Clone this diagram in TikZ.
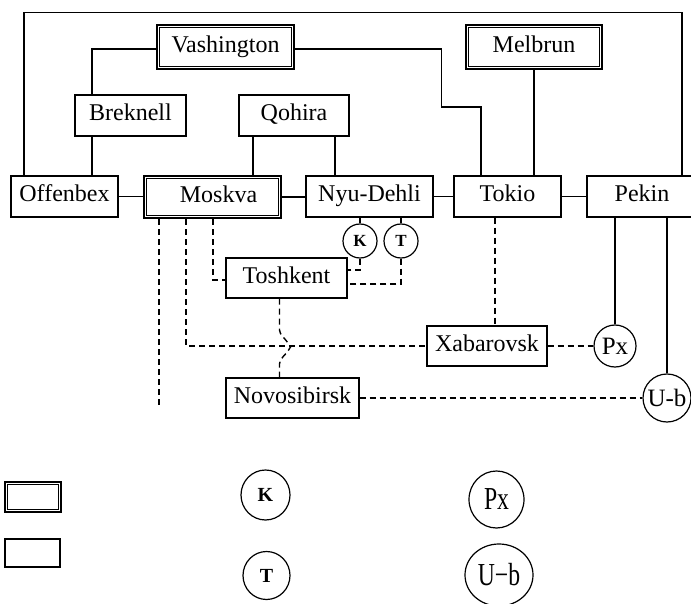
\documentclass[tikz,border=0pt]{standalone}
\usepackage{fontspec}
\setmainfont{Liberation Serif}
\usetikzlibrary{shapes.geometric,calc}
\begin{document}
\begin{tikzpicture}[x=1pt,y=-1pt,
  box/.style={draw, line width=1.3pt, minimum width=#1, minimum height=41pt, inner sep=0pt, text height=16pt, text depth=5pt, font=\fontsize{24}{28}\selectfont},
  dbl/.style={box=#1, line width=2.6pt, minimum height=44pt},
  inner/.style={line width=0.9pt},
  conn/.style={line width=1.2pt},
  dsh/.style={line width=1.4pt, dash pattern=on 6pt off 4pt},
  smallc/.style={draw, circle, line width=1.2pt, minimum size=34pt, inner sep=0pt, font=\fontsize{17}{17}\selectfont\bfseries},
  bigc/.style={draw, circle, line width=1.2pt, minimum size=#1, inner sep=0pt, font=\fontsize{25}{25}\selectfont},
  leg/.style={draw, ellipse, line width=1.2pt, inner sep=0pt}
]
\useasboundingbox (0,0) rectangle (691,604);

% boxes
\node[dbl=137pt] (vash) at (225.5,47) {Vashington};
\node[dbl=136pt] (melb) at (534,47) {Melbrun};
\node[box=111pt] (brek) at (130.5,115.5) {Breknell};
\node[box=110pt] (qoh) at (294,115.5) {Qohira};
\node[box=107pt] (offb) at (64.5,196.5) {Offenbex};
\node[dbl=137pt, minimum height=42pt] (mosk) at (212.5,197) {\hspace*{12pt}Moskva};
\node[box=127pt] (nyu) at (369.5,196.5) {Nyu-Dehli};
\node[box=107pt] (tok) at (507.5,196.5) {Tokio};
\node[box=110pt] (pek) at (642,196.5) {Pekin};
\node[box=121pt, minimum height=40pt] (tosh) at (286.5,278) {Toshkent};
\node[box=120pt, minimum height=40pt] (xab) at (487,346) {Xabarovsk};
\node[box=133pt, minimum height=40pt] (novo) at (292.5,398) {Novosibirsk};

% circles
\node[smallc] (kc) at (360,241) {K};
\node[smallc] (tc) at (401,241) {T};
\node[bigc=42pt] (px) at (615,346) {Px};
\node[bigc=48pt] (ub) at (667,398) {U-b};

% inner lines of double boxes
\foreach \n in {vash,melb,mosk}
  \draw[inner] ([shift={(3.5,3.5)}]\n.north west) rectangle ([shift={(-3.5,-3.5)}]\n.south east);

% solid connectors
\draw[conn] ([shift={(-40.5,0)}]offb.north) -- ++(0,-163) -| ([shift={(40,0)}]pek.north);
\draw[conn] ([shift={(0,2)}]vash.west) -| ([shift={(-38.5,0)}]brek.north);
\draw[conn] ([shift={(-38.5,0)}]brek.south) -- ([shift={(27.5,0)}]offb.north);
\draw[conn] ([shift={(0,2)}]vash.east) -| ++(146,58) -| ([shift={(-26.5,0)}]tok.north);
\draw[conn] (melb.south) -- (melb.south |- tok.north);
\draw[conn] ([shift={(-41,0)}]qoh.south) -- ([shift={(-41,0)}]qoh.south |- mosk.north);
\draw[conn] ([shift={(41,0)}]qoh.south) -- ([shift={(41,0)}]qoh.south |- nyu.north);
\draw[conn] (offb.east) -- (offb.east -| mosk.west);
\draw[conn] (mosk.east) -- (mosk.east -| nyu.west);
\draw[conn] (nyu.east) -- (tok.west);
\draw[conn] (tok.east) -- (pek.west);
\draw[conn] (kc.north) -- (kc.north |- nyu.south);
\draw[conn] (px.north) -- (px.north |- pek.south);
\draw[conn] (ub.north) -- (ub.north |- pek.south);

% dashed connectors
\draw[dsh] (tc.north) -- (tc.north |- nyu.south);
\draw[dsh] (kc.south) |- ([shift={(0,-8)}]tosh.east);
\draw[dsh] (tc.south) |- ([shift={(0,6)}]tosh.east);
\draw[dsh] ([shift={(0.5,0)}]mosk.south) |- ([shift={(0,2)}]tosh.west);
\draw[dsh] ([shift={(-26.5,0)}]mosk.south) |- (xab.west);
\coordinate (mend) at (159,405);
\draw[dsh] ([shift={(-53.5,0)}]mosk.south) -- (mend);
\draw[dsh] ([shift={(-7,0)}]tosh.south) -- (279.5,330) .. controls (279.5,335) and (285.5,338) .. (290.5,347) .. controls (285.5,356) and (279.5,358) .. (279.5,364) -- ([shift={(-13,0)}]novo.north);
\draw[dsh] ([shift={(-12.5,0)}]tok.south) -- ([shift={(-12.5,0)}]tok.south |- xab.north);
\draw[dsh] (xab.east) -- (px.west);
\draw[dsh] (novo.east) -- (ub.west);

% legend
\node[draw, line width=2.6pt, minimum width=56pt, minimum height=30pt, inner sep=0pt] (ld) at (33,497) {};
\draw[inner] ([shift={(3.5,3.5)}]ld.north west) rectangle ([shift={(-3.5,-3.5)}]ld.south east);
\node[draw, line width=1.3pt, minimum width=55pt, minimum height=28pt, inner sep=0pt] (ls) at (32.5,553) {};
\node[leg, minimum width=49pt, minimum height=50pt, font=\fontsize{20}{20}\selectfont\bfseries] (lk) at (265.5,495) {K};
\node[leg, minimum width=47pt, minimum height=48pt, font=\fontsize{20}{20}\selectfont\bfseries] (lt) at (266.5,575.5) {T};
\node[leg, minimum width=55pt, minimum height=57pt, font=\fontsize{32}{32}\selectfont] (lpx) at (496.5,499.5) {\scalebox{0.74}[1]{Px}};
\node[leg, minimum width=68pt, minimum height=62pt, font=\fontsize{32}{32}\selectfont] (lub) at (499,575) {\scalebox{0.74}[1]{U−b}};
\end{tikzpicture}
\end{document}
